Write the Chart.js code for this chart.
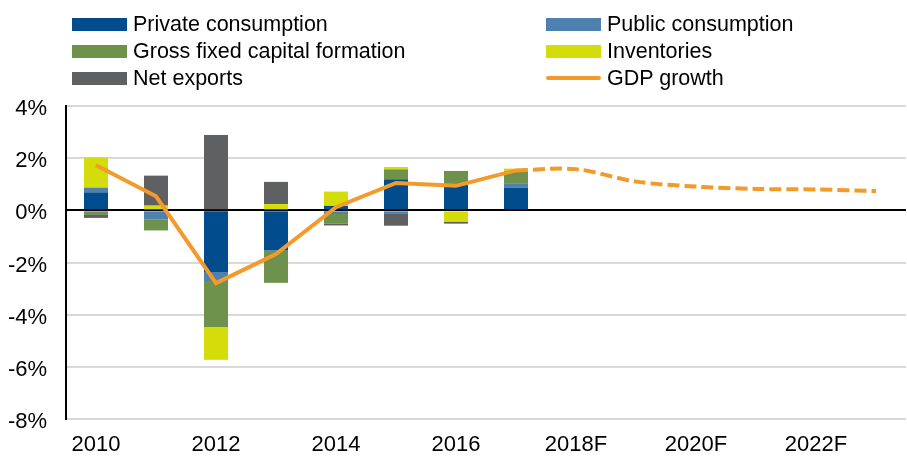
<!DOCTYPE html>
<html>
<head>
<meta charset="utf-8">
<script src="https://cdn.jsdelivr.net/npm/chart.js@4.4.1/dist/chart.umd.min.js"></script>
<style>
  html, body { margin: 0; padding: 0; background: #fff; }
  #wrap { position: relative; width: 907px; height: 457px; }
  #legend { position: absolute; left: 0; top: 0; width: 907px; height: 95px;
            font: 21.5px "Liberation Sans", Arial, sans-serif; color: #000; }
  .item { position: absolute; display: flex; align-items: center; height: 27px; white-space: nowrap; }
  .swatch { width: 55px; height: 13px; margin-right: 6px; }
  .swatch.line { height: 4px; border-radius: 2px; }
</style>
</head>
<body>
<div id="wrap">
  <canvas id="chart" width="907" height="457"></canvas>
  <div id="legend"></div>
</div>
<script>
// contributions to GDP growth, percentage points
const years = ["2010", "2011", "2012", "2013", "2014", "2015", "2016", "2017",
               "2018F", "2019F", "2020F", "2021F", "2022F", "2023F"];
const privateConsumption = [0.69, 0, -2.37, -1.54, 0.17, 1.19, 0.97, 0.87];
const publicConsumption  = [0.18, -0.36, -0.34, 0, -0.14, -0.11, 0, 0.17];
const capitalFormation   = [-0.15, -0.41, -1.76, -1.24, -0.36, 0.38, 0.54, 0.47];
const inventories        = [1.16, 0.18, -1.26, 0.24, 0.55, 0.09, -0.43, 0.09];
const netExports         = [-0.14, 1.15, 2.89, 0.85, -0.08, -0.48, -0.08, -0.04];
const gdpGrowth = [1.73, 0.54, -2.79, -1.68, 0.12, 1.05, 0.94, 1.53,
                   1.58, 1.1, 0.91, 0.82, 0.80, 0.74];
const lastActual = 7; // index of 2017, forecasts after that
const yTicks = { min: -8, max: 4, step: 2 };

const FONT = '"Liberation Sans", Arial, sans-serif';

const gdpActual = gdpGrowth.map((v, i) => (i <= lastActual ? v : null));
const gdpForecast = gdpGrowth.map((v, i) => (i >= lastActual ? v : null));

function bar(label, data, color) {
  return {
    type: "bar",
    label,
    data,
    backgroundColor: color,
    stack: "gdp",
    order: 2,
    categoryPercentage: 1,
    barPercentage: 0.4,
  };
}

const datasets = [
  bar("Private consumption", privateConsumption, "#004c8c"),
  bar("Public consumption", publicConsumption, "#4f81b0"),
  bar("Gross fixed capital formation", capitalFormation, "#6e914b"),
  bar("Inventories", inventories, "#d4dc0a"),
  bar("Net exports", netExports, "#5f6062"),
  {
    type: "line",
    label: "GDP growth",
    data: gdpActual,
    stack: "actual",
    borderColor: "#f39a2a",
    borderWidth: 4,
    pointRadius: 0,
    tension: 0,
    order: 0,
  },
  {
    type: "line",
    label: "GDP growth forecast",
    data: gdpForecast,
    stack: "forecast",
    borderColor: "#f39a2a",
    borderWidth: 4,
    borderDash: [12, 5],
    pointRadius: 0,
    tension: 0.3,
    order: 0,
    hideInLegend: true,
  },
];

const chart = new Chart(document.getElementById("chart"), {
  data: { labels: years, datasets },
  options: {
    responsive: false,
    animation: false,
    layout: { padding: { top: 106, right: 1, left: 0, bottom: 0 } },
    plugins: { legend: { display: false }, tooltip: { enabled: false } },
    scales: {
      x: {
        stacked: true,
        grid: { display: false },
        border: { display: false },
        ticks: {
          autoSkip: false,
          maxRotation: 0,
          padding: 5,
          color: "#000",
          font: { family: FONT, size: 22 },
          callback: (v, i) => (i % 2 === 0 ? years[i] : ""),
        },
        afterFit: (s) => { s.height = 38; },
      },
      y: {
        stacked: true,
        min: yTicks.min,
        max: yTicks.max,
        border: { display: true, color: "#000", width: 2 },
        grid: {
          drawTicks: false,
          color: (c) => (c.tick.value === 0 ? "#000" : "#d9d9d9"),
          lineWidth: 2,
        },
        ticks: {
          stepSize: yTicks.step,
          padding: 19,
          labelOffset: 3,
          color: "#000",
          font: { family: FONT, size: 22 },
          callback: (v) => v + "%",
        },
        afterFit: (s) => { s.width = 66; },
      },
    },
  },
});

// two-column legend like the original
const legend = document.getElementById("legend");
const cols = [72, 546];
const rows = [24, 51, 78];
chart.data.datasets
  .filter((d) => !d.hideInLegend)
  .forEach((d, i) => {
    const item = document.createElement("div");
    item.className = "item";
    item.style.left = cols[i % 2] + "px";
    item.style.top = rows[Math.floor(i / 2)] - 13.5 + "px";
    const sw = document.createElement("span");
    sw.className = "swatch" + (d.type === "line" ? " line" : "");
    sw.style.background = d.type === "line" ? d.borderColor : d.backgroundColor;
    const txt = document.createElement("span");
    txt.textContent = d.label;
    item.appendChild(sw);
    item.appendChild(txt);
    legend.appendChild(item);
  });
</script>
</body>
</html>
